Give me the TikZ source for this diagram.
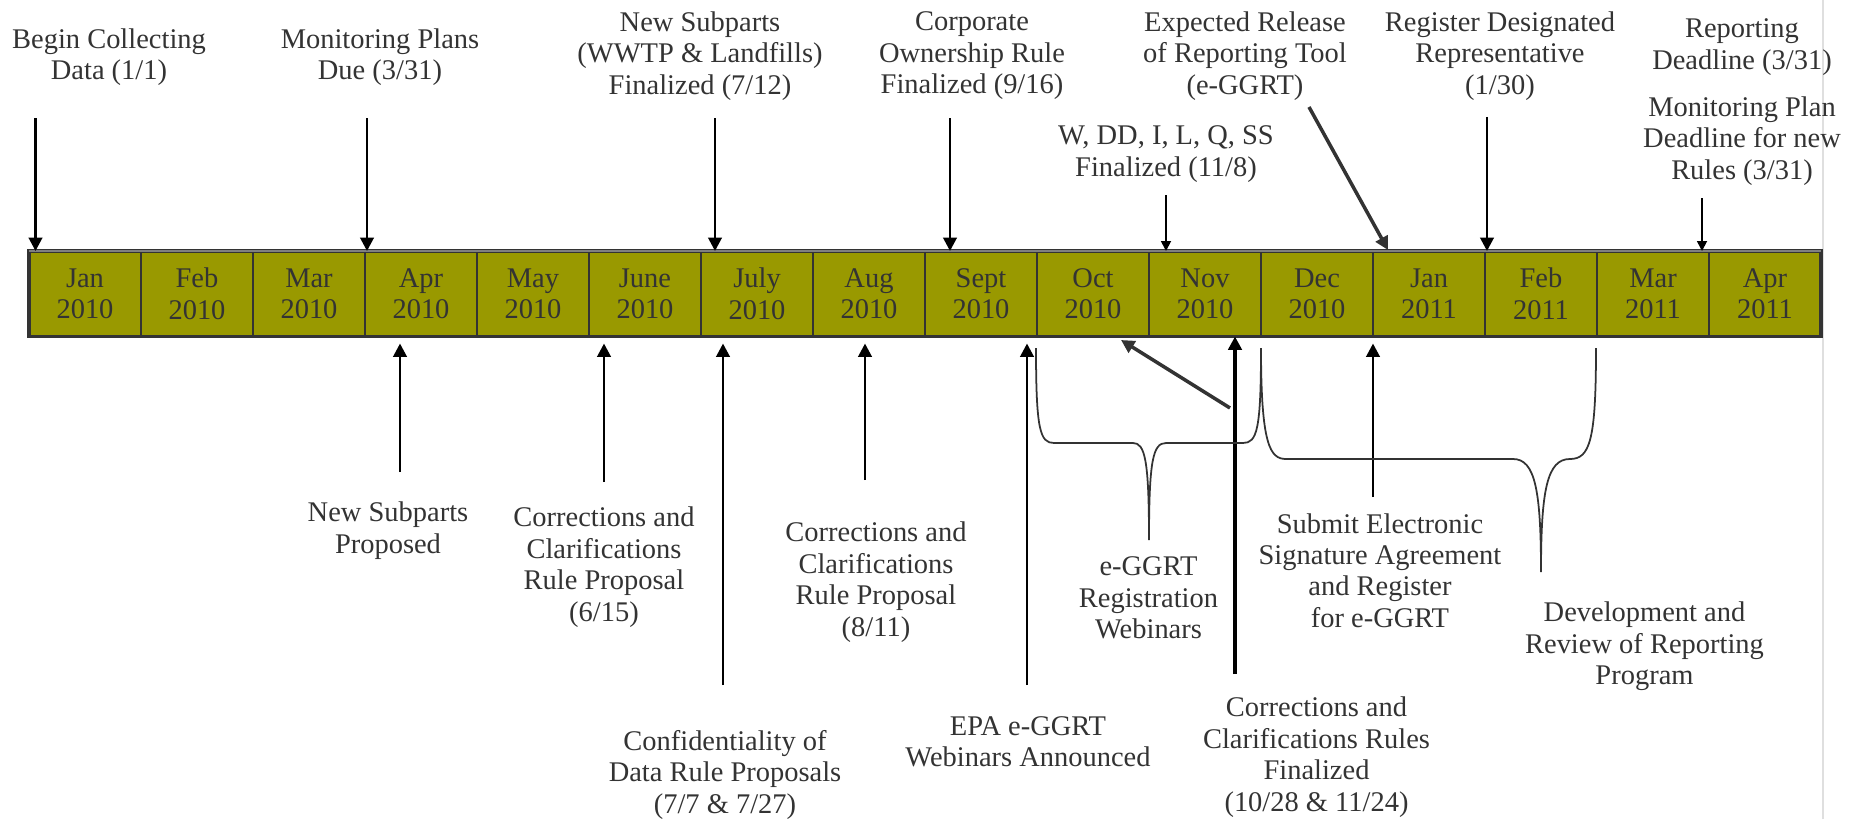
\documentclass[tikz,border=0pt]{standalone}
\usepackage{fontspec}
\setmainfont{Liberation Serif}
\usepackage{tikz}
\usetikzlibrary{arrows.meta}
\definecolor{barfill}{HTML}{999900}
\definecolor{ink}{HTML}{333333}

\begin{document}
\begin{tikzpicture}[>={Triangle[length=3.8pt,width=3.8pt]},
	lbl/.style={align=center, text=ink, inner sep=0pt, font=\fontsize{8.1}{8.95}\selectfont},
	month/.style={lbl, draw=ink, fill=barfill, line width=0.6pt, minimum width=1.12cm, minimum height=0.855cm, outer sep=0pt},
	evt/.style={->, line width=0.8pt},
	evtthin/.style={->, line width=0.5pt, >={Triangle[length=2.8pt,width=2.8pt]}},
	up/.style={evt, shorten >=0.7mm},
	brace/.style={ink, line width=0.5pt}]
	\useasboundingbox (0,0) rectangle (18.5,8.19);
	\draw[gray!25, line width=0.6pt] (18.23,0) -- (18.23,8.19);

	% the months
	\node[month] (m1) at (0.85, 5.2525) {Jan\\2010};
	\node[month] (m2) at (1.97, 5.2525) {Feb\\2010};
	\node[month] (m3) at (3.09, 5.2525) {Mar\\2010};
	\node[month] (m4) at (4.21, 5.2525) {Apr\\2010};
	\node[month] (m5) at (5.33, 5.2525) {May\\2010};
	\node[month] (m6) at (6.45, 5.2525) {June\\2010};
	\node[month] (m7) at (7.57, 5.2525) {July\\2010};
	\node[month] (m8) at (8.69, 5.2525) {Aug\\2010};
	\node[month] (m9) at (9.81, 5.2525) {Sept\\2010};
	\node[month] (m10) at (10.93, 5.2525) {Oct\\2010};
	\node[month] (m11) at (12.05, 5.2525) {Nov\\2010};
	\node[month] (m12) at (13.17, 5.2525) {Dec\\2010};
	\node[month] (m13) at (14.29, 5.2525) {Jan\\2011};
	\node[month] (m14) at (15.41, 5.2525) {Feb\\2011};
	\node[month] (m15) at (16.53, 5.2525) {Mar\\2011};
	\node[month] (m16) at (17.65, 5.2525) {Apr\\2011};
	\draw[ink, line width=0.9pt] (m1.north west) rectangle (m16.south east);
	\draw[gray, line width=0.6pt] (m1.north west) -- (m16.north east);

	% above the bar
	\node[lbl] (begin) at (1.09, 7.62) {Begin Collecting\\Data (1/1)};
	\node[lbl] (mplans) at (3.80, 7.62) {Monitoring Plans\\Due (3/31)};
	\node[lbl] (newsub) at (7.00, 7.63) {New Subparts\\(WWTP \& Landfills)\\Finalized (7/12)};
	\node[lbl] (corp) at (9.72, 7.63) {Corporate\\Ownership Rule\\Finalized (9/16)};
	\node[lbl] (wdd) at (11.66, 6.65) {W, DD, I, L, Q, SS\\Finalized (11/8)};
	\node[lbl] (tool) at (12.45, 7.63) {Expected Release\\of Reporting Tool\\(e-GGRT)};
	\node[lbl] (desrep) at (15.00, 7.63) {Register Designated\\Representative\\(1/30)};
	\node[lbl] (repdl) at (17.42, 7.72) {Reporting\\Deadline (3/31)};
	\node[lbl] (mpdl) at (17.42, 6.78) {Monitoring Plan\\Deadline for new\\Rules (3/31)};

	\coordinate (t-begin) at (0.355, 7.01);
	\coordinate (t-mplans) at (3.67, 7.01);
	\coordinate (t-newsub) at (7.15, 7.01);
	\coordinate (t-corp) at (9.50, 7.01);
	\coordinate (t-wdd) at (11.66, 6.24);
	\coordinate (t-tool) at (13.09, 7.12);
	\coordinate (h-tool) at (13.88, 5.69);
	\coordinate (t-desrep) at (14.87, 7.02);
	\coordinate (t-mpdl) at (17.02, 6.21);

	\draw[evt] (t-begin) -- (t-begin |- m1.north);
	\draw[evt] (t-mplans) -- (t-mplans |- m1.north);
	\draw[evt] (t-newsub) -- (t-newsub |- m1.north);
	\draw[evt] (t-corp) -- (t-corp |- m1.north);
	\draw[evtthin] (t-wdd) -- (t-wdd |- m1.north);
	\draw[evt, ink, line width=1pt] (t-tool) -- (h-tool);
	\draw[evt] (t-desrep) -- (t-desrep |- m1.north);
	\draw[evtthin] (t-mpdl) -- (t-mpdl |- m1.north);

	% below the bar
	\node[lbl] (newprop) at (3.88, 2.885) {New Subparts\\Proposed};
	\node[lbl] (ccjun) at (6.04, 2.518) {Corrections and\\Clarifications\\Rule Proposal\\(6/15)};
	\node[lbl] (conf) at (7.25, 0.443) {Confidentiality of\\Data Rule Proposals\\(7/7 \& 7/27)};
	\node[lbl] (ccaug) at (8.76, 2.368) {Corrections and\\Clarifications\\Rule Proposal\\(8/11)};
	\node[lbl] (epa) at (10.28, 0.77) {EPA e-GGRT\\Webinars Announced};
	\node[lbl] (regweb) at (11.485, 2.21) {e-GGRT\\Registration\\Webinars};
	\node[lbl] (ccfin) at (13.165, 0.6175) {Corrections and\\Clarifications Rules\\Finalized\\(10/28 \& 11/24)};
	\node[lbl] (esa) at (13.80, 2.485) {Submit Electronic\\Signature Agreement\\and Register\\for e-GGRT};
	\node[lbl] (devrev) at (16.445, 1.727) {Development and\\Review of Reporting\\Program};

	\coordinate (b-newprop) at (4.00, 3.47);
	\coordinate (b-ccjun) at (6.04, 3.37);
	\coordinate (b-conf) at (7.23, 1.34);
	\coordinate (b-ccaug) at (8.65, 3.39);
	\coordinate (b-epa) at (10.27, 1.34);
	\coordinate (b-webs) at (12.30, 4.11);
	\coordinate (h-webs) at (11.21, 4.79);
	\coordinate (b-ccfin) at (12.35, 1.45);
	\coordinate (b-esa) at (13.73, 3.22);

	\draw[up] (b-newprop) -- (b-newprop |- m1.south);
	\draw[up] (b-ccjun) -- (b-ccjun |- m1.south);
	\draw[up] (b-conf) -- (b-conf |- m1.south);
	\draw[up] (b-ccaug) -- (b-ccaug |- m1.south);
	\draw[up] (b-epa) -- (b-epa |- m1.south);
	\draw[evt, ink, line width=1pt] (b-webs) -- (h-webs);
	\draw[evt, line width=1.1pt] (b-ccfin) -- (b-ccfin |- m1.south);
	\draw[up] (b-esa) -- (b-esa |- m1.south);

	% braces
	\draw[brace] (10.36,4.71) .. controls (10.36,3.89) and (10.40,3.76) .. (10.54,3.76) -- (11.33,3.76)
		.. controls (11.45,3.76) and (11.49,3.59) .. (11.49,2.79)
		.. controls (11.49,3.59) and (11.53,3.76) .. (11.66,3.76) -- (12.43,3.76)
		.. controls (12.57,3.76) and (12.61,3.89) .. (12.61,4.71);
	\draw[brace] (12.61,4.71) .. controls (12.61,3.74) and (12.70,3.60) .. (12.86,3.60) -- (15.13,3.60)
		.. controls (15.35,3.60) and (15.41,3.29) .. (15.41,2.47)
		.. controls (15.41,3.29) and (15.47,3.60) .. (15.70,3.60)
		.. controls (15.90,3.60) and (15.96,3.79) .. (15.96,4.71);
\end{tikzpicture}
\end{document}
